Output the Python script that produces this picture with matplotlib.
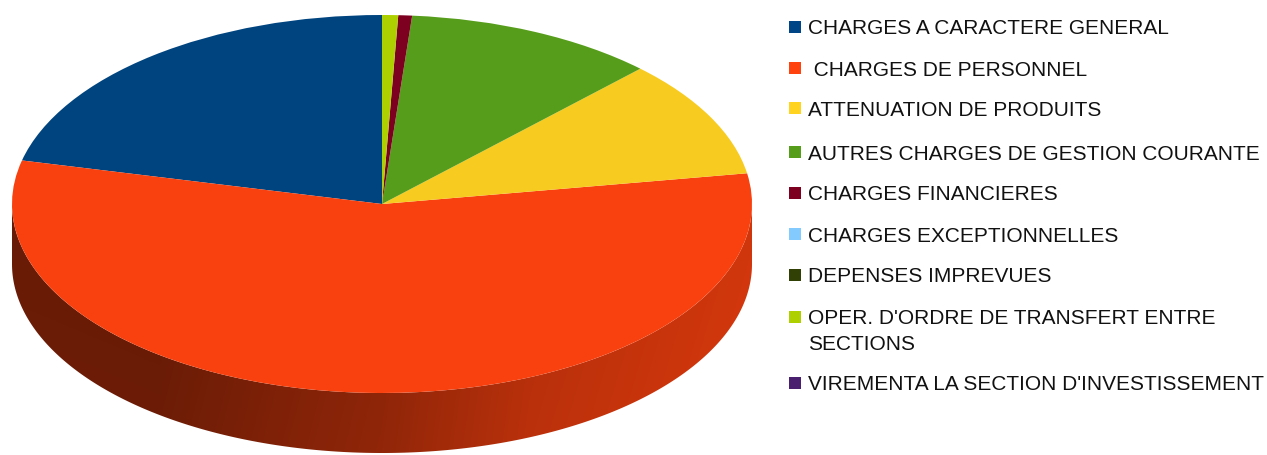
import numpy as np
import matplotlib
matplotlib.use("Agg")
import matplotlib.pyplot as plt
from matplotlib.patches import Rectangle, Polygon
from matplotlib.colors import to_rgb

categories = [
    "CHARGES A CARACTERE GENERAL",
    " CHARGES DE PERSONNEL",
    "ATTENUATION DE PRODUITS",
    "AUTRES CHARGES DE GESTION COURANTE",
    "CHARGES FINANCIERES",
    "CHARGES EXCEPTIONNELLES",
    "DEPENSES IMPREVUES",
    "OPER. D'ORDRE DE TRANSFERT ENTRE\nSECTIONS",
    "VIREMENTA LA SECTION D'INVESTISSEMENT",
]
values = [21.3, 56.3, 10.1, 11.0, 0.6, 0.0, 0.0, 0.7, 0.0]
legend_colors = ["#004586", "#ff420e", "#ffd320", "#579d1c", "#7e0021",
                 "#83caff", "#314004", "#aecf00", "#4b1f6f"]
top_colors = ["#00447f", "#f8410f", "#f8cb20", "#579d1c", "#7e0021",
              "#83caff", "#314004", "#aecf00", "#4b1f6f"]

W, H = 1267, 455
fig = plt.figure(figsize=(W / 100, H / 100), dpi=100)

# pie geometry (pixels)
px_left, px_right = 12, 752
px_top, px_topbottom, px_bottom = 15, 393, 453
ry_px = (px_topbottom - px_top) / 2
depth = (px_bottom - px_topbottom) / ry_px

ax = fig.add_axes([px_left / W, (H - px_bottom) / H,
                   (px_right - px_left) / W, (px_bottom - px_top) / H])

wedges, _ = ax.pie(values, colors=top_colors, startangle=90, counterclock=True,
                   radius=1, center=(0, 0), normalize=True,
                   wedgeprops=dict(linewidth=0, antialiased=True))
for w in wedges:
    w.set_zorder(5)

# side walls: one polygon per slice (front part), filled with a shading gradient
total = float(sum(values))
cum = np.concatenate([[0], np.cumsum(values)]) / total
shade_x = [-1.0, -0.6, 0.0, 0.4, 1.0]
shade_f = [0.43, 0.42, 0.56, 0.73, 0.85]
gx = np.linspace(-1, 1, 600)
gy = np.linspace(-1 - depth, 0, 60)
GX, GY = np.meshgrid(gx, gy)
F = np.interp(GX, shade_x, shade_f) + 0.03 * (-(GY + 0.5))
for i, v in enumerate(values):
    if v <= 0:
        continue
    t1 = 90 + 360 * cum[i]
    t2 = 90 + 360 * cum[i + 1]
    ts = np.linspace(t1, t2, max(int((t2 - t1) * 2), 2))
    ts = np.deg2rad(ts)
    # clip to front half (sin < 0), handling wrap
    front = np.sin(ts) < 0
    if not front.any():
        continue
    tf = ts[front]
    top_pts = np.column_stack([np.cos(tf), np.sin(tf)])
    bot_pts = np.column_stack([np.cos(tf[::-1]), np.sin(tf[::-1]) - depth])
    poly = Polygon(np.vstack([top_pts, bot_pts]), closed=True,
                   facecolor="none", edgecolor="none", zorder=2)
    ax.add_patch(poly)
    base = np.array(to_rgb(top_colors[i]))
    img = np.clip(F[..., None] * base[None, None, :], 0, 1)
    im = ax.imshow(img, extent=(-1, 1, -1 - depth, 0), origin="lower",
                   aspect="auto", interpolation="bilinear", zorder=2)
    im.set_clip_path(poly)

ax.set_aspect("auto")
ax.set_xlim(-1, 1)
ax.set_ylim(-1 - depth, 1)
ax.axis("off")

# legend (manual)
font = "Liberation Sans"
fs = 15.0
row_y = [27, 68, 108, 152, 193, 234, 275, 317, 383]
sq = 12
for lab, col, y in zip(categories, legend_colors, row_y):
    fig.patches.append(Rectangle((789 / W, (H - y - sq / 2) / H), sq / W, sq / H,
                                 transform=fig.transFigure, facecolor=col,
                                 edgecolor="none"))
    lines = lab.split("\n")
    for k, ln in enumerate(lines):
        fig.text(808 / W, (H - (y + 25 * k)) / H, ln, fontsize=fs, family=font,
                 color="#111111", va="center_baseline", ha="left")

fig.savefig("out.png", dpi=100, facecolor="white")
